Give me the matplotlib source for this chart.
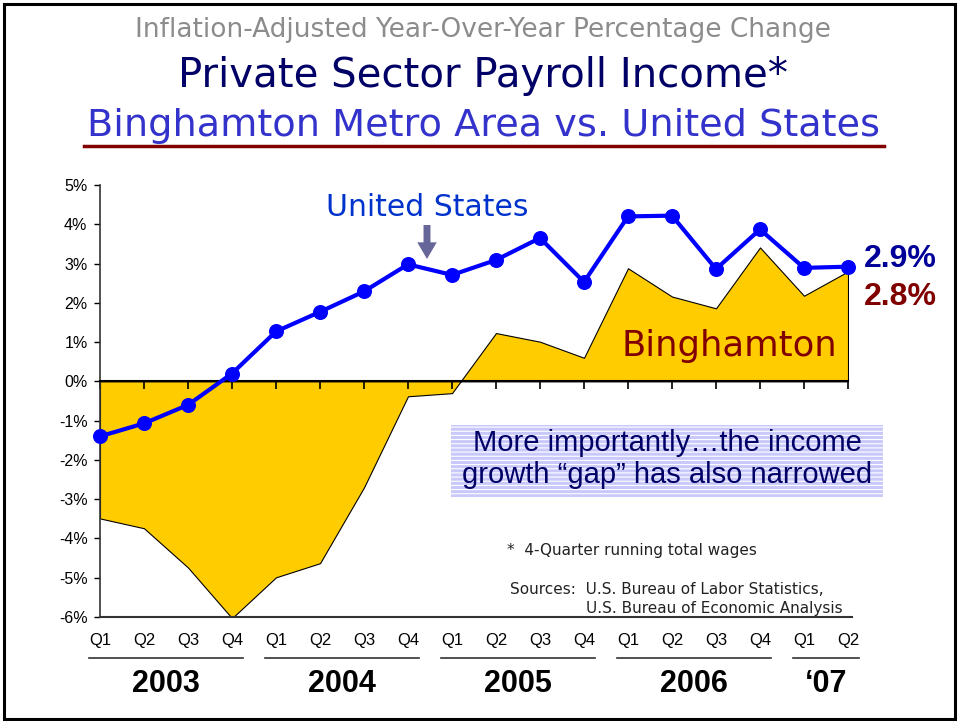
import matplotlib
matplotlib.use("Agg")
import matplotlib.pyplot as plt
from matplotlib.patches import Rectangle
from matplotlib.lines import Line2D
from matplotlib.transforms import blended_transform_factory

quarters = ["Q1", "Q2", "Q3", "Q4"] * 4 + ["Q1", "Q2"]
years = ["2003", "2004", "2005", "2006", "\u201807"]
year_spans = [(0, 3), (4, 7), (8, 11), (12, 15), (16, 17)]
us = [-1.40, -1.07, -0.60, 0.20, 1.27, 1.77, 2.29, 2.98, 2.71, 3.09,
      3.65, 2.53, 4.20, 4.22, 2.86, 3.87, 2.89, 2.92]
bing = [-3.49, -3.74, -4.74, -6.03, -4.99, -4.63, -2.70, -0.38, -0.30, 1.23,
        1.01, 0.60, 2.88, 2.16, 1.86, 3.41, 2.18, 2.80]
yticks = [5, 4, 3, 2, 1, 0, -1, -2, -3, -4, -5, -6]

W, H = 960, 721
plt.rcParams["hatch.linewidth"] = 0.8
fig = plt.figure(figsize=(9.6, 7.21), dpi=100)

def fx(x):
    return x / W

def fy(y):
    return 1 - y / H

TITLE_FONT = ["DejaVu Sans"]
ARIAL = ["Liberation Sans", "DejaVu Sans"]

# frame
fig.add_artist(Rectangle((fx(4), fy(719)), fx(951), (715) / H, transform=fig.transFigure,
                         fill=False, edgecolor="black", lw=2.2))

# titles
fig.text(fx(483), fy(30), "Inflation-Adjusted Year-Over-Year Percentage Change",
         ha="center", va="center", color="#8c8c8c", fontsize=19, family=TITLE_FONT)
fig.text(fx(483), fy(76), "Private Sector Payroll Income*",
         ha="center", va="center", color="#000066", fontsize=29, family=TITLE_FONT)
fig.text(fx(483), fy(126), "Binghamton Metro Area vs. United States",
         ha="center", va="center", color="#3333cc", fontsize=27.5, family=TITLE_FONT)
fig.add_artist(Line2D([fx(84), fx(884)], [fy(146), fy(146)], transform=fig.transFigure,
                      color="#800000", lw=2.5))

ax = fig.add_axes([fx(100), fy(617), fx(748), 432 / H])
x = list(range(len(us)))
ax.fill_between(x, 0, bing, facecolor="#FFCC00", edgecolor="black", lw=0.8, zorder=1)
ax.plot(x, us, color="#0000FF", lw=3.0, marker="o", markersize=9.8, zorder=5, clip_on=False)

ax.set_xlim(0, 17)
ax.set_ylim(-6, 5)
ax.spines["top"].set_visible(False)
ax.spines["right"].set_visible(False)
ax.spines["bottom"].set_position(("data", 0))
ax.spines["bottom"].set_zorder(3)
ax.spines["left"].set_color("#333333")
ax.spines["left"].set_linewidth(1.2)
ax.spines["bottom"].set_linewidth(1.5)
ax.set_xticks(x)
ax.set_xticklabels([])
ax.tick_params(axis="x", direction="out", length=6, width=1.2, color="black")
ax.set_yticks(yticks)
ax.set_yticklabels([f"{v}%" for v in yticks], fontsize=11.5, family=ARIAL)
ax.tick_params(axis="y", direction="out", length=4, width=1, pad=5)
ax.axhline(-6, color="#333333", lw=1.5, xmax=1.006, clip_on=False)
ax.patch.set_visible(False)

# quarter + year labels
bt = blended_transform_factory(ax.transData, fig.transFigure)
for i, q in enumerate(quarters):
    ax.text(i, fy(641), q, transform=bt, ha="center", va="center", fontsize=12, family=ARIAL)
for (a, b), yr in zip(year_spans, years):
    ax.add_artist(Line2D([a - 0.25, b + 0.25], [fy(658), fy(658)], transform=bt,
                         color="#333333", lw=1.2, clip_on=False))
    ax.text((a + b) / 2, fy(684), yr, transform=bt, ha="center", va="center",
            fontsize=22, fontweight="bold", family=ARIAL)

# annotations
ax.text(fx(427), fy(208), "United States", transform=fig.transFigure, ha="center", va="center",
        color="#0033cc", fontsize=21.5, family=TITLE_FONT)
ax.annotate("", xy=(fx(427), fy(259)), xytext=(fx(427), fy(225)),
            xycoords=fig.transFigure, textcoords=fig.transFigure,
            arrowprops=dict(facecolor="#666699", edgecolor="none", width=5, headwidth=14,
                            headlength=12, shrink=0))
ax.text(fx(864), fy(259), "2.9%", transform=fig.transFigure, ha="left", va="center",
        color="#000099", fontsize=23, fontweight="bold", family=ARIAL)
ax.text(fx(864), fy(297), "2.8%", transform=fig.transFigure, ha="left", va="center",
        color="#800000", fontsize=23, fontweight="bold", family=ARIAL)
ax.text(fx(729), fy(346), "Binghamton", transform=fig.transFigure, ha="center", va="center",
        color="#800000", fontsize=25.5, family=TITLE_FONT, zorder=4)

# striped box
box = Rectangle((fx(451), fy(497)), fx(432), 72 / H, transform=fig.transFigure,
                facecolor="#c8c8fa", edgecolor="white", hatch="----", lw=0)
fig.add_artist(box)
fig.text(fx(667), fy(443), "More importantly\u2026the income", ha="center", va="center",
         color="#000066", fontsize=21, family=ARIAL)
fig.text(fx(667), fy(475), "growth \u201cgap\u201d has also narrowed", ha="center", va="center",
         color="#000066", fontsize=21, family=ARIAL)

fig.text(fx(507), fy(551), "*  4-Quarter running total wages", ha="left", va="center",
         color="#222222", fontsize=11, family=TITLE_FONT)
fig.text(fx(510), fy(590), "Sources:  U.S. Bureau of Labor Statistics,", ha="left", va="center",
         color="#222222", fontsize=11, family=TITLE_FONT)
fig.text(fx(586), fy(608), "U.S. Bureau of Economic Analysis", ha="left", va="center",
         color="#222222", fontsize=11, family=TITLE_FONT)

fig.savefig("out.png", dpi=100)
